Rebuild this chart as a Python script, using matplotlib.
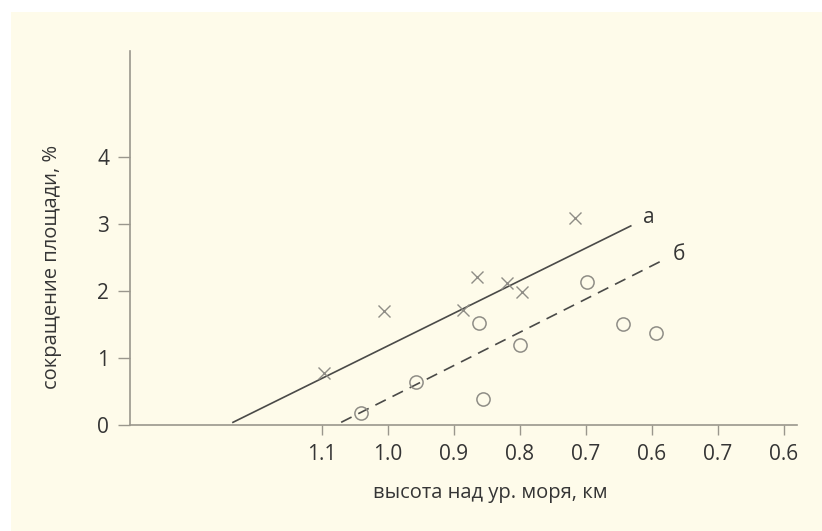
import numpy as np
import matplotlib
matplotlib.use('Agg')
import matplotlib.pyplot as plt
from matplotlib.patches import Rectangle

# data (altitude km, area reduction %)
cross_x = [1.097, 1.006, 0.886, 0.865, 0.820, 0.797, 0.717]
cross_y = [0.78, 1.70, 1.72, 2.21, 2.12, 1.99, 3.09]

circle_x = [1.041, 0.958, 0.862, 0.856, 0.800, 0.698, 0.644, 0.594]
circle_y = [0.18, 0.64, 1.52, 0.39, 1.19, 2.13, 1.51, 1.37]

line_a_x = [1.235, 0.632]
line_a_y = [0.04, 2.97]
line_b_x = [1.071, 0.583]
line_b_y = [0.04, 2.46]

xtick_pos = [1.1, 1.0, 0.9, 0.8, 0.7, 0.6, 0.5, 0.4]
xtick_labels = ['1.1', '1.0', '0.9', '0.8', '0.7', '0.6', '0.7', '0.6']
ytick_pos = [0, 1, 2, 3, 4]

BG = '#fefbea'
AXIS_COL = '#9a978d'
TEXT_COL = '#353535'
MARK_COL = '#8f8d86'
LINE_COL = '#4a4a48'

plt.rcParams['font.family'] = ['Open Sans', 'DejaVu Sans']
plt.rcParams['font.size'] = 15

fig = plt.figure(figsize=(8.22, 5.31), dpi=100)
fig.patch.set_facecolor('white')
fig.patches.append(Rectangle((11 / 822, 0), 1 - 11 / 822, 519 / 531,
                             transform=fig.transFigure, facecolor=BG,
                             edgecolor='none', zorder=-10))

ax = fig.add_axes([0.1582, 0.1996, 0.9696 - 0.1582, 0.904 - 0.1996])
ax.set_facecolor('none')
ax.set_zorder(5)

ax.plot(line_a_x, line_a_y, color=LINE_COL, linewidth=1.2)
ax.plot(line_b_x, line_b_y, color=LINE_COL, linewidth=1.2, dashes=(7, 4.5))

ax.plot(cross_x, cross_y, linestyle='none', marker='x', markersize=9,
        markeredgewidth=1.0, color=MARK_COL, clip_on=False)
ax.plot(circle_x, circle_y, linestyle='none', marker='o', markersize=9.5,
        markeredgewidth=1.1, markerfacecolor='none', markeredgecolor=MARK_COL,
        clip_on=False)

ax.text(0.6135, 3.09, 'а', color=TEXT_COL, fontsize=15, ha='left', va='center')
ax.text(0.568, 2.55, 'б', color=TEXT_COL, fontsize=15, ha='left', va='center')

ax.set_xlim(1.391, 0.38)
ax.set_ylim(0, 5.58)

ax.set_xticks(xtick_pos)
ax.set_xticklabels(xtick_labels)
ax.set_yticks(ytick_pos)

for side in ['top', 'right']:
    ax.spines[side].set_visible(False)
for side in ['left', 'bottom']:
    ax.spines[side].set_color(AXIS_COL)
    ax.spines[side].set_linewidth(1.2)

ax.tick_params(axis='y', direction='out', length=9, width=1.0,
               color=AXIS_COL, labelcolor=TEXT_COL, pad=6, labelsize=15)
ax.tick_params(axis='x', direction='out', length=7.5, width=1.0,
               color=AXIS_COL, labelcolor=TEXT_COL, pad=6, labelsize=15)

ax.set_xlabel('высота над ур. моря, км', color=TEXT_COL, fontsize=14.5)
ax.xaxis.set_label_coords(0.54, -0.155)
ax.set_ylabel('сокращение площади, %', color=TEXT_COL, fontsize=14.5)
ax.yaxis.set_label_coords(-0.102, 0.422)

fig.savefig('out.png', dpi=100)
